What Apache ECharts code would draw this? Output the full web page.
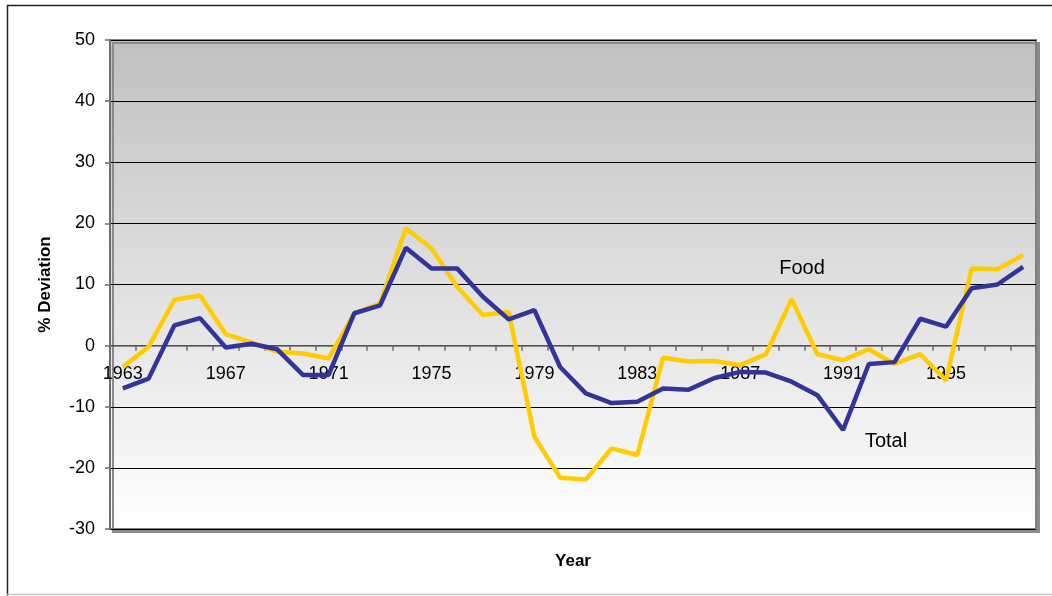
<!DOCTYPE html>
<html>
<head>
<meta charset="utf-8">
<script src="https://cdn.jsdelivr.net/npm/echarts@6/dist/echarts.min.js"></script>
<style>
  html, body { margin: 0; padding: 0; background: #ffffff; }
  #chart { width: 1052px; height: 596px; }
</style>
</head>
<body>
<div id="chart"></div>
<script>
// Years on the category axis
const years = [];
for (let y = 1963; y <= 1998; y++) years.push(String(y));

// % deviation, food prices
const food = [-3.5, -0.2, 7.5, 8.2, 1.9, 0.5, -1.0, -1.3, -2.1, 5.3, 6.9, 19.2,
              15.9, 9.6, 5.0, 5.5, -14.9, -21.6, -21.9, -16.8, -17.9, -2.0, -2.6, -2.5,
              -3.2, -1.4, 7.6, -1.4, -2.4, -0.6, -3.0, -1.4, -5.7, 12.6, 12.5, 14.8];

// % deviation, total
const total = [-7.0, -5.4, 3.3, 4.5, -0.3, 0.3, -0.6, -4.8, -4.8, 5.3, 6.6, 16.0,
               12.6, 12.6, 8.0, 4.3, 5.8, -3.5, -7.8, -9.4, -9.2, -7.0, -7.2, -5.3,
               -4.3, -4.4, -5.9, -8.1, -13.8, -3.0, -2.7, 4.4, 3.1, 9.4, 10.0, 12.9];

const Y_MIN = -30, Y_MAX = 50, Y_STEP = 10;

const FONT = '"Liberation Sans", Arial, sans-serif';
const GRID = { left: 110, right: 16, top: 40, bottom: 67 };
const H = 596;

// the category axis sits on the zero line: shift it up from the grid bottom
const plotH = H - GRID.top - GRID.bottom;
const zeroOffset = -plotH * (0 - Y_MIN) / (Y_MAX - Y_MIN);

const chart = echarts.init(document.getElementById('chart'), null, { renderer: 'canvas' });

chart.setOption({
  backgroundColor: '#ffffff',
  animation: false,
  grid: {
    left: GRID.left, right: GRID.right, top: GRID.top, bottom: GRID.bottom,
    show: true,
    backgroundColor: new echarts.graphic.LinearGradient(0, 0, 0, 1, [
      { offset: 0, color: '#c0c0c0' },
      { offset: 1, color: '#ffffff' }
    ]),
    borderColor: '#808080',
    borderWidth: 2,
    shadowColor: '#8a8a8a',
    shadowOffsetX: 3,
    shadowOffsetY: 3,
    shadowBlur: 0
  },
  xAxis: {
    type: 'category',
    data: years,
    boundaryGap: true,
    offset: zeroOffset,
    axisLine: { onZero: false, lineStyle: { color: '#6e6e6e', width: 1.5 } },
    axisTick: { show: true, interval: 0, length: 5, lineStyle: { color: '#6e6e6e', width: 1.5 } },
    axisLabel: { interval: 3, margin: 19, color: '#000', fontSize: 18, fontFamily: FONT },
    splitLine: { show: false }
  },
  yAxis: {
    type: 'value',
    min: Y_MIN, max: Y_MAX, interval: Y_STEP,
    name: '% Deviation',
    nameLocation: 'middle',
    nameGap: 56,
    nameRotate: 90,
    nameTextStyle: { color: '#000', fontSize: 17, fontWeight: 'bold', fontFamily: FONT },
    axisLine: { show: true, lineStyle: { color: '#6e6e6e', width: 2 } },
    axisTick: { show: true, length: 5, lineStyle: { color: '#6e6e6e', width: 1.5 } },
    axisLabel: { margin: 15, color: '#000', fontSize: 18, fontFamily: FONT },
    splitLine: { show: true, lineStyle: { color: '#000000', width: 1 } }
  },
  series: [
    {
      name: 'Food',
      type: 'line',
      data: food,
      symbol: 'none',
      lineStyle: { color: '#ffcc00', width: 4.5 },
      z: 3
    },
    {
      name: 'Total',
      type: 'line',
      data: total,
      symbol: 'none',
      lineStyle: { color: '#333399', width: 4.5 },
      z: 4
    }
  ],
  graphic: [
    // outer frame
    { type: 'line', shape: { x1: 7.5, y1: 5, x2: 7.5, y2: 596 }, style: { stroke: '#222', lineWidth: 1.5 }, z: 100 },
    { type: 'line', shape: { x1: 7, y1: 5.5, x2: 1052, y2: 5.5 }, style: { stroke: '#222', lineWidth: 1.5 }, z: 100 },
    { type: 'line', shape: { x1: 7, y1: 594.5, x2: 1052, y2: 594.5 }, style: { stroke: '#c8c8c8', lineWidth: 1.5 }, z: 100 },
    // axis title and series captions
    { type: 'text', x: 573, y: 561,
      style: { text: 'Year', fill: '#000', font: 'bold 17px ' + FONT, textAlign: 'center', textVerticalAlign: 'middle' }, z: 100 },
    { type: 'text', x: 802, y: 268,
      style: { text: 'Food', fill: '#000', font: '20px ' + FONT, textAlign: 'center', textVerticalAlign: 'middle' }, z: 100 },
    { type: 'text', x: 886, y: 441,
      style: { text: 'Total', fill: '#000', font: '20px ' + FONT, textAlign: 'center', textVerticalAlign: 'middle' }, z: 100 }
  ]
});
</script>
</body>
</html>
